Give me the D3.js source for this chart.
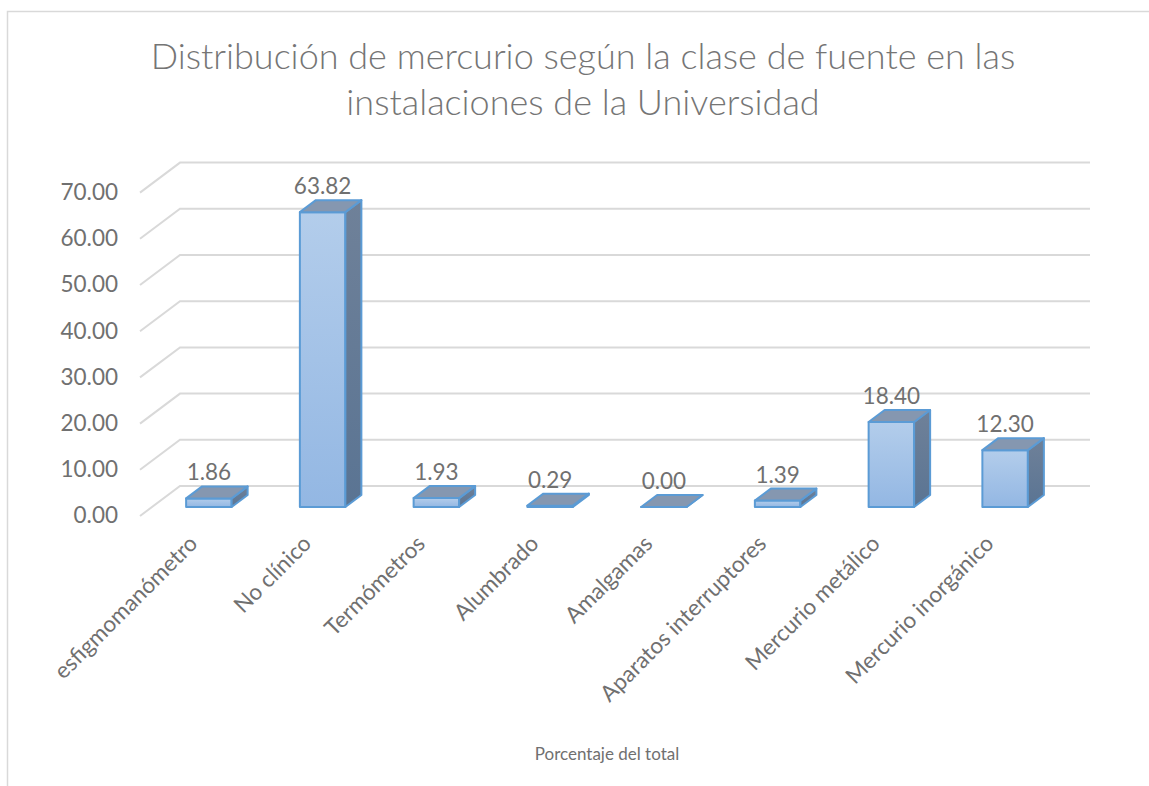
<!DOCTYPE html>
<html>
<head>
<meta charset="utf-8">
<script src="https://cdn.jsdelivr.net/npm/d3@7"></script>
<style>
  body { margin: 0; background: #fff; }
  text { font-family: Lato, "Open Sans", sans-serif; }
</style>
</head>
<body>
<div class="chart"></div>
<script>
const categories = ["esfigmomanómetro", "No clínico", "Termómetros", "Alumbrado",
  "Amalgamas", "Aparatos interruptores", "Mercurio metálico", "Mercurio inorgánico"];
const values = [1.86, 63.82, 1.93, 0.29, 0.00, 1.39, 18.40, 12.30];
const yTicks = [0, 10, 20, 30, 40, 50, 60, 70];
const titleLines = ["Distribución de mercurio según la clase de fuente en las",
  "instalaciones de la Universidad"];
const axisTitle = "Porcentaje del total";

const W = 1149, H = 786;
// depth of the 3d box (floor / side wall), bars sit between z0 and z1
const depth = {dx: 40, dy: -30};
const z0 = 0.3, z1 = 0.7;
const textColor = "#707070";

const svg = d3.select(".chart").append("svg")
    .attr("width", W)
    .attr("height", H);

const defs = svg.append("defs");
const gFront = defs.append("linearGradient").attr("id", "gFront")
    .attr("x1", 0).attr("y1", 0).attr("x2", 0).attr("y2", 1);
gFront.append("stop").attr("offset", "0%").attr("stop-color", "#b3cdeb");
gFront.append("stop").attr("offset", "100%").attr("stop-color", "#93b7e3");
const gSide = defs.append("linearGradient").attr("id", "gSide")
    .attr("x1", 0).attr("y1", 0).attr("x2", 0).attr("y2", 1);
gSide.append("stop").attr("offset", "0%").attr("stop-color", "#6f8199");
gSide.append("stop").attr("offset", "100%").attr("stop-color", "#5a7493");

// chart frame (cut by the window on the right and bottom)
svg.append("rect")
    .attr("x", 7.5).attr("y", 11.5)
    .attr("width", 1300).attr("height", 1000)
    .attr("fill", "none")
    .attr("stroke", "#d9d9d9")
    .attr("stroke-width", 1.5);

// title
svg.append("g").selectAll("text")
    .data(titleLines)
    .join("text")
    .attr("x", 583)
    .attr("y", (d, i) => 69 + i * 46)
    .attr("text-anchor", "middle")
    .attr("font-size", 36)
    .attr("font-weight", 300)
    .attr("fill", "#757575")
    .text(d => d);

const xScale = d3.scaleBand()
    .domain(categories)
    .range([140, 1050])
    .paddingInner(0.6)
    .paddingOuter(0.3);

const yScale = d3.scaleLinear()
    .domain([0, 70])
    .range([516, 516 - 7 * 46.2]);

// project (x on front plane, y on front plane, depth fraction) to screen
const P = (x, y, z) => [x + depth.dx * z, y + depth.dy * z];

const x0 = xScale.range()[0], x1 = xScale.range()[1];

// gridlines: side wall diagonal + back wall horizontal
const grid = svg.append("g")
    .attr("stroke", "#d9d9d9")
    .attr("stroke-width", 2)
    .attr("fill", "none");
grid.selectAll("path")
    .data(yTicks)
    .join("path")
    .attr("d", d => {
        const a = P(x0, yScale(d), 0), b = P(x0, yScale(d), 1), c = P(x1, yScale(d), 1);
        return "M" + a + "L" + b + "L" + c;
    });

// y axis labels
svg.append("g").selectAll("text")
    .data(yTicks)
    .join("text")
    .attr("x", 118)
    .attr("y", d => yScale(d))
    .attr("dy", "0.33em")
    .attr("text-anchor", "end")
    .attr("font-size", 22.5)
    .attr("fill", textColor)
    .text(d => d3.format(".2f")(d));

// bars
const bars = svg.append("g")
    .attr("stroke", "#5b9bd5")
    .attr("stroke-width", 2)
    .attr("stroke-linejoin", "round")
    .selectAll("g")
    .data(categories.map((c, i) => ({cat: c, v: values[i]})))
    .join("g");

function face(pts) { return "M" + pts.join("L") + "Z"; }

bars.each(function(d) {
    const g = d3.select(this);
    const xl = xScale(d.cat), xr = xl + xScale.bandwidth();
    const yb = yScale(0), yt = yScale(d.v);
    // front
    g.append("path")
        .attr("fill", "url(#gFront)")
        .attr("d", face([P(xl, yt, z0), P(xr, yt, z0), P(xr, yb, z0), P(xl, yb, z0)]));
    // side
    g.append("path")
        .attr("fill", "url(#gSide)")
        .attr("d", face([P(xr, yt, z0), P(xr, yt, z1), P(xr, yb, z1), P(xr, yb, z0)]));
    // top
    g.append("path")
        .attr("fill", "#8597b0")
        .attr("d", face([P(xl, yt, z0), P(xl, yt, z1), P(xr, yt, z1), P(xr, yt, z0)]));
});

// data labels
svg.append("g").selectAll("text")
    .data(categories.map((c, i) => ({cat: c, v: values[i]})))
    .join("text")
    .attr("x", d => P(xScale(d.cat) + xScale.bandwidth() / 2, 0, z0)[0])
    .attr("y", d => P(0, yScale(d.v), z1)[1] - 6)
    .attr("text-anchor", "middle")
    .attr("font-size", 22.5)
    .attr("fill", textColor)
    .text(d => d3.format(".2f")(d.v));

// category labels
svg.append("g").selectAll("text")
    .data(categories)
    .join("text")
    .attr("transform", d => "translate(" + (xScale(d) + xScale.bandwidth() / 2 + 2) + ",545) rotate(-45)")
    .attr("text-anchor", "end")
    .attr("font-size", 22.5)
    .attr("fill", textColor)
    .text(d => d);

// axis title
svg.append("text")
    .attr("x", 607)
    .attr("y", 760)
    .attr("text-anchor", "middle")
    .attr("font-size", 17)
    .attr("fill", textColor)
    .text(axisTitle);
</script>
</body>
</html>
